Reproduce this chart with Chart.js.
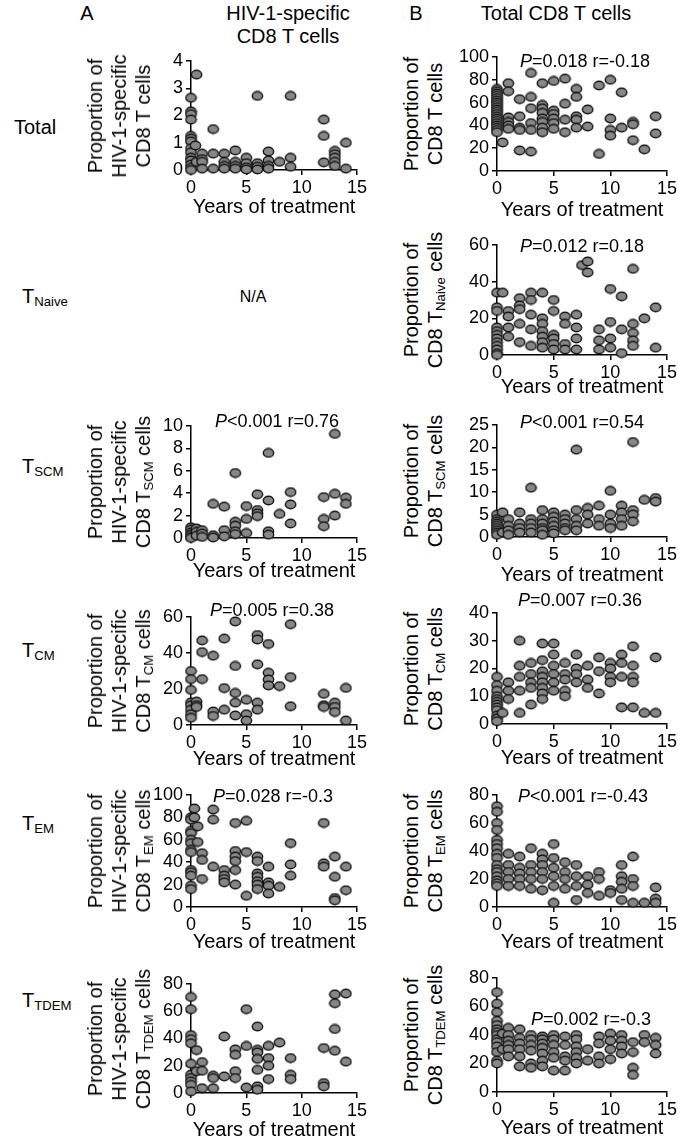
<!DOCTYPE html>
<html>
<head>
<meta charset="utf-8">
<script src="https://cdn.jsdelivr.net/npm/chart.js@4.4.1/dist/chart.umd.min.js"></script>
<style>
  body { margin: 0; background: #fff; font-family: "Liberation Sans", Arial, sans-serif; color: #000; }
  #page { position: relative; width: 678px; height: 1139px; overflow: hidden; }
  canvas { position: absolute; }
  .t { position: absolute; white-space: nowrap; transform: translate(-50%, -50%); font-size: 20px; line-height: 24px; }
  .row { position: absolute; white-space: nowrap; transform: translateY(-50%); font-size: 20px; line-height: 24px; }
  .ann { position: absolute; white-space: nowrap; transform: translate(-50%, -50%); font-size: 18px; }
  .yt { position: absolute; white-space: nowrap; text-align: center; font-size: 20px; line-height: 24px;
        transform: translate(-50%, -50%) rotate(-90deg); }
  sub { font-size: 0.66em; vertical-align: baseline; position: relative; top: 0.25em; line-height: 0; }
</style>
</head>
<body>
<div id="page">
  <div class="t" style="left:87px;top:13px">A</div>
  <div class="t" style="left:288px;top:13px">HIV-1-specific</div>
  <div class="t" style="left:288px;top:36px">CD8 T cells</div>
  <div class="t" style="left:416px;top:13px">B</div>
  <div class="t" style="left:556px;top:13px">Total CD8 T cells</div>

  <div class="row" style="left:14px;top:127px">Total</div>
  <div class="row" style="left:22px;top:296px">T<sub>Naive</sub></div>
  <div class="row" style="left:22px;top:466px">T<sub>SCM</sub></div>
  <div class="row" style="left:22px;top:650px">T<sub>CM</sub></div>
  <div class="row" style="left:22px;top:823px">T<sub>EM</sub></div>
  <div class="row" style="left:22px;top:1000px">T<sub>TDEM</sub></div>

  <div class="t" style="left:253px;top:297px;font-size:16px">N/A</div>
</div>
<script>
// [years of treatment, proportion]
const totalA = [
  [0,2.65],[0,2.15],[0,2.05],[0,1.85],[0,1.25],[0,1.15],[0,1.05],[0,0.8],[0,0.65],[0,0.45],[0,0.35],[0,0.2],[0,0.08],[0,0],
  [0.5,3.5],[0.4,0.9],[0.5,0.3],
  [1,0.6],[1,0.4],[1,0.3],[1,0.05],
  [2,1.5],[2,0.6],[2,0.05],
  [3,0.6],[3,0.3],[3,0.15],[3,0.05],
  [4,0.72],[4,0.3],[4,0.15],[4,0.05],
  [5,0.45],[5,0.25],[5,0.1],[5,0.02],
  [6,2.72],[6,0.25],[6,0.12],[6,0.02],
  [7,0.68],[7,0.35],[7,0.15],[7,0.05],
  [8,0.3],
  [9,2.72],[9,0.45],[9,0.12],
  [12,1.85],[12,1.25],[12,0.28],
  [13,0.7],[13,0.58],[13,0.45],[13,0.3],[13,0.15],
  [14,1.0],[14,0.05]
];
const totalB = [
  [0,72],[0,70],[0,68],[0,66],[0,64],[0,62],[0,60],[0,58],[0,56],[0,54],[0,52],[0,50],[0,48],[0,46],[0,44],[0,42],[0,40],[0,38],[0,36],[0,34],
  [0.5,25],
  [1,77],[1,70],[1,47],[1,43],[1,40],[1,37],
  [2,63],[2,48],[2,38],[2,36],[2,18],
  [3,86],[3,65],[3,55],[3,42],[3,36],[3,17],
  [4,77],[4,58],[4,55],[4,51],[4,46],[4,43],[4,38],[4,34],
  [5,79],[5,53],[5,50],[5,46],[5,42],[5,37],
  [6,81],[6,59],[6,45],[6,34],
  [7,72],[7,65],[7,48],[7,45],[7,38],
  [8,54],[8,39],
  [9,75],[9,15],
  [10,80],[10,46],[10,36],[10,31],
  [11,69],[11,38],
  [12,43],[12,41],[12,27],
  [13,19],
  [14,48],[14,33]
];
const naiveB = [
  [0,34],[0,26],[0,24],[0,15],[0,13],[0,11],[0,9],[0,7],[0,5],[0,3],[0,1],[0,0],
  [0.5,34],
  [1,24],[1,21],[1,15],[1,10],
  [2,31],[2,27],[2,25],[2,17],[2,7],
  [3,34],[3,30],[3,22],[3,14],[3,5],
  [4,34],[4,20],[4,17],[4,13],[4,10],[4,7],[4,4],
  [5,30],[5,24],[5,11],[5,9],[5,6],[5,3],
  [6,21],[6,17],[6,6],[6,3],
  [7,22],[7,15],[7,9],[7,3],
  [7.5,49],[8,51],[8,45],
  [9,14],[9,8],[9,3],
  [10,36],[10,18],[10,9],[10,4],
  [11,32],[11,14],[11,1],
  [12,47],[12,17],[12,12],[12,8],[12,5],
  [13,20],
  [14,26],[14,4]
];
const scmA = [
  [0,0.95],[0,0.75],[0,0.5],[0,0.3],[0,0.1],[0,0],
  [0.5,0.85],[0.5,0.55],[0.5,0.2],
  [1,0.7],[1,0.4],[1,0.1],
  [2,3.05],[2,0.25],[2,0.05],
  [3,2.8],[3,0.7],[3,0.15],
  [4,5.8],[4,1.45],[4,1.1],[4,0.6],[4,0.35],
  [5,2.85],[5,1.7],[5,0.45],
  [6,3.9],[6,2.5],[6,2.2],[6,1.95],
  [7,7.6],[7,3.35],[7,0.6],[7,0.3],
  [8,2.15],
  [9,4.1],[9,3.0],[9,1.3],
  [12,3.65],[12,1.7],[12,1.05],
  [13,9.3],[13,3.95],[13,2.0],
  [14,3.6],[14,3.05]
];
const scmB = [
  [0,5],[0,4],[0,3.5],[0,3],[0,2.5],[0,2],[0,1.5],[0,1],[0,0.5],
  [0.5,5.5],[0.5,1],
  [1,4],[1,2.5],[1,1.5],[1,0.5],
  [2,5.5],[2,3],[2,2],[2,1],
  [3,11],[3,4],[3,3],[3,2],[3,1],
  [4,6],[4,4],[4,3],[4,2],[4,1.5],[4,0.5],
  [5,5.5],[5,4.5],[5,3.5],[5,2.5],[5,1.5],[5,0.8],
  [6,5],[6,4],[6,3],[6,2],[6,1.5],
  [7,19.5],[7,6],[7,4],[7,2.5],[7,1.5],
  [8,6.5],[8,5],[8,3],
  [9,7],[9,4],[9,2.5],
  [10,10.3],[10,5],[10,3],[10,2],
  [11,7],[11,5.5],[11,4],[11,2.5],
  [12,21.2],[12,6],[12,5],[12,3.5],
  [13,8.3],
  [14,8.7],[14,7.9]
];
const cmA = [
  [0,30],[0,25.5],[0,19.5],[0,12.5],[0,11],[0,8.5],[0,6],[0,4],
  [0.5,13],[0.5,11],[0.5,10],
  [1,47],[1,40.5],[1,25.5],
  [2,38.5],[2,7.5],[2,5],
  [3,48],[3,20.5],[3,8.5],
  [4,57.5],[4,32.8],[4,17.8],[4,12.4],[4,5.3],
  [5,14],[5,6],[5,2.5],
  [6,50],[6,47.5],[6,33.7],[6,12.4],[6,8.5],
  [7,45],[7,29],[7,25.3],[7,22],
  [8,21.6],
  [9,56],[9,26.6],[9,10.4],
  [12,17.3],[12,11],[12,10],
  [13,12.4],[13,10],[13,7.2],
  [14,20.6],[14,2.5]
];
const cmB = [
  [0,17],[0,14],[0,12],[0,10],[0,9],[0,8],[0,7],[0,6],[0,5],[0,3],[0,2],[0,1],
  [0.5,4],
  [1,15],[1,12],[1,9],
  [2,30],[2,21],[2,17],[2,12],[2,4],
  [3,22],[3,18],[3,15],[3,13],[3,7],
  [4,29],[4,23],[4,19],[4,17],[4,15],[4,13],[4,11],[4,9],
  [5,29],[5,25],[5,21],[5,18],[5,15],[5,12],
  [6,22],[6,18],[6,16],[6,12],[6,10],
  [7,25],[7,20],[7,18],[7,15],
  [8,21],[8,16],[8,13],
  [9,24],[9,19],[9,11],
  [10,22],[10,20],[10,17],[10,15],
  [11,25],[11,22],[11,17],[11,6],
  [12,28],[12,21],[12,17],[12,15],[12,6],
  [13,4],
  [14,24],[14,4]
];
const emA = [
  [0,80],[0,78],[0,68],[0,66],[0,60],[0,57],[0,51],[0,49],[0,33],[0,31],[0,28],[0,19],[0,16],
  [0.3,88],[0.3,80],
  [0.6,72],[0.6,58],
  [1,48],[1,42],[1,25],
  [2,87],[2,78],[2,36],
  [3,33],[3,28],[3,25],[3,22],
  [4,75],[4,50],[4,45],[4,41],[4,33],[4,20],
  [5,77],[5,49],[5,10],
  [6,45],[6,41],[6,30],[6,27],[6,23],[6,20],[6,16],
  [7,36],[7,22],[7,19],[7,12],
  [8,18],
  [9,57],[9,38],[9,28],
  [12,75],[12,39],[12,36],
  [13,45],[13,27],[13,8],[13,6],
  [14,36],[14,15]
];
const emB = [
  [0,72],[0,68],[0,60],[0,55],[0,48],[0,45],[0,42],[0,38],[0,35],[0,30],[0,27],[0,25],[0,22],[0,19],[0,17],[0,15],
  [1,38],[1,30],[1,25],[1,20],[1,15],
  [2,36],[2,28],[2,24],[2,20],[2,15],
  [3,42],[3,30],[3,25],[3,20],[3,13],
  [4,38],[4,34],[4,30],[4,25],[4,20],[4,12],
  [5,45],[5,35],[5,28],[5,22],[5,15],[5,3],
  [6,32],[6,25],[6,20],[6,13],
  [7,30],[7,22],[7,15],[7,5],
  [8,22],[8,16],[8,10],
  [9,25],[9,20],[9,8],
  [10,12],[10,10],
  [11,30],[11,22],[11,18],[11,13],[11,5],
  [12,36],[12,20],[12,15],[12,3],
  [13,3],
  [14,14],[14,6],[14,3]
];
const tdemA = [
  [0,70.5],[0,61.5],[0,42.5],[0,39.5],[0,36.5],[0,21.5],[0,13.5],[0,11],[0,8.5],[0,6],[0,1.2],
  [0.5,31.5],[0.5,16],
  [1,22.7],[1,16.3],[1,3.5],
  [2,12.7],[2,11],[2,3.5],
  [3,41.5],[3,12.2],
  [4,32],[4,28],[4,16],[4,11],
  [5,61.5],[5,34.5],[5,4],
  [6,48.8],[6,31.7],[6,29.8],[6,25],[6,17],[6,4.9],[6,2.4],
  [7,34.6],[7,25.6],[7,20],[7,10.2],
  [8,37],
  [9,25.6],[9,13.4],[9,10.2],
  [12,33],[12,7.3],[12,4.9],
  [13,72.4],[13,65.9],[13,47],[13,31],
  [14,73],[14,23]
];
const tdemB = [
  [0,70],[0,62],[0,56],[0,50],[0,47],[0,44],[0,42],[0,40],[0,37],[0,35],[0,32],[0,28],[0,22],[0,20],
  [0.5,41],[0.5,30],
  [1,45],[1,40],[1,36],[1,33],[1,30],[1,25],
  [2,44],[2,38],[2,34],[2,30],[2,25],[2,18],
  [3,40],[3,37],[3,33],[3,29],[3,20],[3,17],
  [4,39],[4,37],[4,34],[4,31],[4,27],[4,22],[4,18],
  [5,40],[5,37],[5,33],[5,28],[5,24],[5,15],
  [6,39],[6,33],[6,25],[6,22],[6,15],
  [7,40],[7,37],[7,32],[7,28],[7,24],[7,20],
  [8,30],[8,22],
  [9,39],[9,34],[9,25],[9,20],
  [10,41],[10,36],[10,30],[10,23],
  [11,40],[11,36],[11,32],[11,27],
  [12,35],[12,28],[12,17],[12,12],
  [13,40],[13,35],
  [14,38],[14,33],[14,27]
];

const FONT = '"Liberation Sans", Arial, sans-serif';
const page = document.getElementById("page");

// box = [left, top, right, bottom] of the plot area on the page
const panels = [
  { pts: totalA, yMax: 4, step: 1, box: [191, 61, 357, 170], tOff: 37, spec: true, cell: "",
    ann: null },
  { pts: totalB, yMax: 100, step: 20, box: [497, 57, 667, 171], tOff: 39, spec: false, cell: "",
    ann: ["<i>P</i>=0.018 r=-0.18", 585, 61] },
  { pts: naiveB, yMax: 60, step: 20, box: [497, 245, 667, 355], tOff: 32, spec: false, cell: "Naive",
    ann: ["<i>P</i>=0.012 r=0.18", 582, 246] },
  { pts: scmA, yMax: 10, step: 2, box: [191, 426, 357, 538], tOff: 33, spec: true, cell: "SCM",
    ann: ["<i>P</i>&lt;0.001 r=0.76", 277, 421] },
  { pts: scmB, yMax: 25, step: 5, box: [497, 425, 667, 537], tOff: 38, spec: false, cell: "SCM",
    ann: ["<i>P</i>&lt;0.001 r=0.54", 582, 422] },
  { pts: cmA, yMax: 60, step: 20, box: [191, 617, 357, 725], tOff: 34, spec: true, cell: "CM",
    ann: ["<i>P</i>=0.005 r=0.38", 272, 610] },
  { pts: cmB, yMax: 40, step: 10, box: [497, 613, 667, 724], tOff: 34, spec: false, cell: "CM",
    ann: ["<i>P</i>=0.007 r=0.36", 580, 600] },
  { pts: emA, yMax: 100, step: 20, box: [191, 795, 357, 907], tOff: 35, spec: true, cell: "EM",
    ann: ["<i>P</i>=0.028 r=-0.3", 273, 796] },
  { pts: emB, yMax: 80, step: 20, box: [497, 795, 667, 907], tOff: 35, spec: false, cell: "EM",
    ann: ["<i>P</i>&lt;0.001 r=-0.43", 583, 796] },
  { pts: tdemA, yMax: 80, step: 20, box: [191, 984, 357, 1093], tOff: 37, spec: true, cell: "TDEM",
    ann: null },
  { pts: tdemB, yMax: 80, step: 20, box: [497, 978, 667, 1092], tOff: 36, spec: false, cell: "TDEM",
    ann: ["<i>P</i>=0.002 r=-0.3", 591, 1019] }
];

// slightly flattened grey dot, like the original markers
function makeDot() {
  const d = document.createElement("canvas");
  d.width = 13; d.height = 11;
  const g = d.getContext("2d");
  g.beginPath();
  g.ellipse(6.5, 5.5, 5.2, 4.3, 0, 0, Math.PI * 2);
  g.fillStyle = "#878787";
  g.fill();
  g.lineWidth = 1.4;
  g.strokeStyle = "#151515";
  g.stroke();
  return d;
}
const dot = makeDot();

function addDiv(cls, html, x, y) {
  const d = document.createElement("div");
  d.className = cls;
  d.innerHTML = html;
  d.style.left = x + "px";
  d.style.top = y + "px";
  page.appendChild(d);
}

function drawPanel(p) {
  const [l, t, r, b] = p.box;
  const YW = 44, PT = 14, PR = 14, XH = p.tOff + 12;
  const w = r - l + YW + PR, h = b - t + PT + XH;
  const c = document.createElement("canvas");
  c.width = w; c.height = h;
  c.style.left = (l - YW) + "px"; c.style.top = (t - PT) + "px";
  c.style.width = w + "px"; c.style.height = h + "px";
  page.appendChild(c);

  const axisGrid = { drawOnChartArea: false, color: "#000", tickLength: 5, lineWidth: 1.5 };
  const axisBorder = { color: "#000", width: 1.5 };
  new Chart(c, {
    type: "scatter",
    data: {
      datasets: [{
        data: p.pts.map(([x, y]) => ({ x, y })),
        pointStyle: dot,
        pointRadius: 5,
        clip: false
      }]
    },
    options: {
      responsive: false,
      animation: false,
      events: [],
      layout: { padding: { top: PT, right: PR, left: 0, bottom: 0 } },
      plugins: { legend: { display: false }, tooltip: { enabled: false } },
      scales: {
        x: {
          type: "linear", min: 0, max: 15,
          ticks: { stepSize: 5, autoSkip: false, maxRotation: 0, color: "#000", padding: 2,
                   font: { family: FONT, size: 18 } },
          grid: axisGrid, border: axisBorder,
          title: { display: true, text: "Years of treatment", color: "#000",
                   font: { family: FONT, size: 20 }, padding: { top: 0, bottom: 0 } },
          afterFit: (s) => { s.height = XH; }
        },
        y: {
          min: 0, max: p.yMax,
          ticks: { stepSize: p.step, autoSkip: false, color: "#000", padding: 3,
                   font: { family: FONT, size: 18 } },
          grid: axisGrid, border: axisBorder,
          afterFit: (s) => { s.width = YW; }
        }
      }
    }
  });

  const cy = (t + b) / 2;
  const cellTxt = p.cell ? "CD8 T<sub>" + p.cell + "</sub> cells" : "CD8 T cells";
  if (p.spec) {
    addDiv("yt", "Proportion of<br>HIV-1-specific<br>" + cellTxt, 119, cy);
  } else {
    addDiv("yt", "Proportion of<br>" + cellTxt, 423, cy);
  }
  if (p.ann) addDiv("ann", p.ann[0], p.ann[1], p.ann[2]);
}

panels.forEach(drawPanel);
</script>
</body>
</html>
